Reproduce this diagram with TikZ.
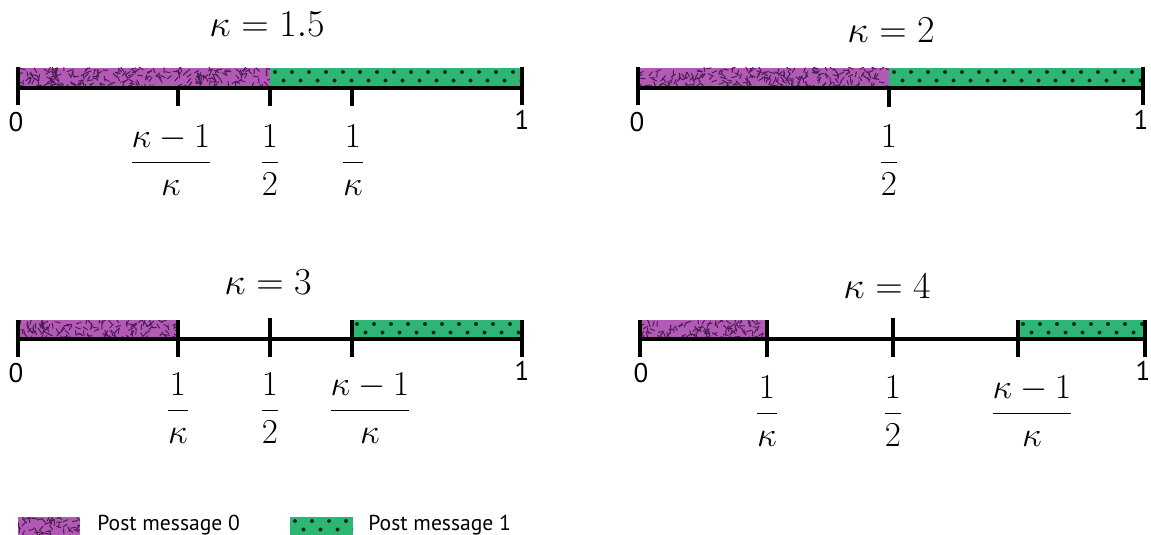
\RequirePackage{fix-cm}
\documentclass[tikz,border=0pt]{standalone}
\usepackage{amsmath}
\usepackage{fontspec}
\setsansfont{PT Sans}
\definecolor{pmsg}{HTML}{B25AB6}
\definecolor{gmsg}{HTML}{2DB574}
\definecolor{pdash}{HTML}{4A1F50}
\definecolor{gdot}{HTML}{0E2A1C}
\tikzset{
  axisline/.style={line width=1.6pt, black},
  tickline/.style={line width=1.8pt, black},
  dashmark/.style={line width=0.5pt, pdash, line cap=round},
  dotmark/.style={fill=gdot},
  title/.style={anchor=base, inner sep=0pt, font=\fontsize{19}{21}\selectfont},
  fraclbl/.style={anchor=base, inner sep=0pt, font=\fontsize{17.5}{20}\selectfont},
  endlbl/.style={anchor=base, inner sep=0pt, font=\sffamily\fontsize{13.5}{15}\selectfont},
  legendlbl/.style={anchor=base west, inner sep=0pt, font=\sffamily\fontsize{10.8}{13}\selectfont},
}
\newcommand\purplefill[4]{%
  \fill[pmsg] (#1,#3) rectangle (#2,#4);
  \begin{scope}
    \clip (#1,#3) rectangle (#2,#4);
    \pgfmathtruncatemacro\ndash{(#2-#1)*(#4-#3)/22}
    \foreach \i in {1,...,\ndash}{
      \pgfmathsetmacro\px{#1+rnd*(#2-#1)}
      \pgfmathsetmacro\py{#3+rnd*(#4-#3)}
      \pgfmathsetmacro\pa{rnd*180}
      \draw[dashmark] (\px,\py) ++(\pa:2.5) -- ++(\pa+180:5);
    }
  \end{scope}}
\newcommand\greenfill[4]{%
  \fill[gmsg] (#1,#3) rectangle (#2,#4);
  \begin{scope}
    \clip (#1,#3) rectangle (#2,#4);
    \pgfmathtruncatemacro\ndot{(#2-#1)/17}
    \foreach \k in {0,...,\ndot}{
      \fill[dotmark] (#1+5+\k*17,#3+4) circle[radius=1pt];
      \fill[dotmark] (#1+13.5+\k*17,#3+12.5) circle[radius=1pt];
    }
  \end{scope}}
\begin{document}
\begin{tikzpicture}[x=0.5pt,y=-0.5pt]
\useasboundingbox (0,0) rectangle (1151,535);
\pgfmathsetseed{7}

% ---------- kappa = 1.5 ----------
\purplefill{18}{270}{68}{88}
\greenfill{270}{522}{68}{88}
\draw[axisline] (18,88) -- (522,88);
\draw[tickline] (18,67) -- (18,105);
\draw[tickline] (522,67) -- (522,105);
\draw[tickline] (178,88) -- (178,106);
\draw[tickline] (270,88) -- (270,106);
\draw[tickline] (352,88) -- (352,106);
\node[title] (t1) at (267,37) {$\kappa = 1.5$};
\node[endlbl] (a0) at (16,132) {0};
\node[endlbl] (a1) at (522,130) {1};
\node[fraclbl] (a2) at (171,171) {$\dfrac{\kappa-1}{\kappa}$};
\node[fraclbl] (a3) at (270,171) {$\dfrac{1}{2}$};
\node[fraclbl] (a4) at (353,171) {$\dfrac{1}{\kappa}$};

% ---------- kappa = 2 ----------
\purplefill{638}{889}{68}{88}
\greenfill{889}{1143}{68}{88}
\draw[axisline] (638,88) -- (1143,88);
\draw[tickline] (638,67) -- (638,105);
\draw[tickline] (1143,67) -- (1143,105);
\draw[tickline] (889,88) -- (889,107);
\node[title] (t2) at (891,43) {$\kappa = 2$};
\node[endlbl] (b0) at (637,132) {0};
\node[endlbl] (b1) at (1141,130) {1};
\node[fraclbl] (b2) at (889,171) {$\dfrac{1}{2}$};

% ---------- kappa = 3 ----------
\purplefill{18}{178}{320}{339}
\greenfill{352}{522}{320}{339}
\draw[axisline] (18,339) -- (522,339);
\draw[tickline] (18,320) -- (18,357);
\draw[tickline] (178,320) -- (178,357);
\draw[tickline] (270,318) -- (270,357);
\draw[tickline] (352,320) -- (352,357);
\draw[tickline] (522,320) -- (522,357);
\node[title] (t3) at (268,294) {$\kappa = 3$};
\node[endlbl] (c0) at (16,382) {0};
\node[endlbl] (c1) at (522,380) {1};
\node[fraclbl] (c2) at (178,419) {$\dfrac{1}{\kappa}$};
\node[fraclbl] (c3) at (270,419) {$\dfrac{1}{2}$};
\node[fraclbl] (c4) at (370,419) {$\dfrac{\kappa-1}{\kappa}$};

% ---------- kappa = 4 ----------
\purplefill{640}{767}{320}{339}
\greenfill{1018}{1145}{320}{339}
\draw[axisline] (640,339) -- (1145,339);
\draw[tickline] (640,320) -- (640,357);
\draw[tickline] (767,320) -- (767,357);
\draw[tickline] (893,318) -- (893,357);
\draw[tickline] (1018,320) -- (1018,357);
\draw[tickline] (1145,320) -- (1145,357);
\node[title] (t4) at (887,298) {$\kappa = 4$};
\node[endlbl] (d0) at (641,382) {0};
\node[endlbl] (d1) at (1143,380) {1};
\node[fraclbl] (d2) at (767,422) {$\dfrac{1}{\kappa}$};
\node[fraclbl] (d3) at (893,422) {$\dfrac{1}{2}$};
\node[fraclbl] (d4) at (1032,422) {$\dfrac{\kappa-1}{\kappa}$};

% ---------- legend ----------
\purplefill{18}{80}{517}{535}
\node[legendlbl] (l0) at (97,530) {Post message 0};
\greenfill{290}{353}{517}{535}
\node[legendlbl] (l1) at (368,530) {Post message 1};
\end{tikzpicture}
\end{document}
